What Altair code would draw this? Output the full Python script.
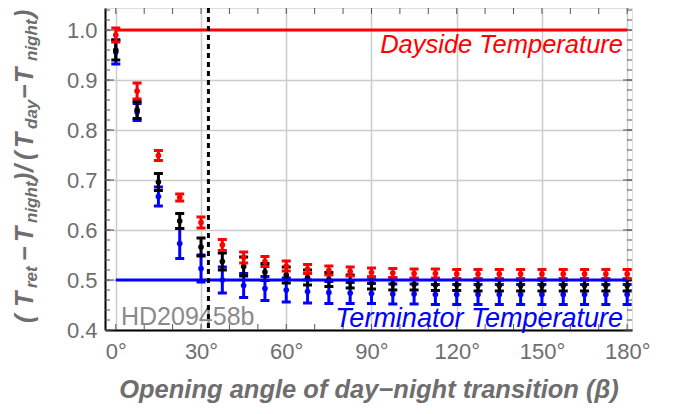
import altair as alt
import pandas as pd

# ---------------- data ----------------
beta = [0, 7.5, 15, 22.5, 30, 37.5, 45, 52.5, 60, 67.5, 75, 82.5, 90, 97.5,
        105, 112.5, 120, 127.5, 135, 142.5, 150, 157.5, 165, 172.5, 180]

red_val = [0.990, 0.878, 0.749, 0.665, 0.615, 0.570, 0.545, 0.537, 0.528, 0.522,
           0.519, 0.517, 0.515, 0.514, 0.513, 0.513, 0.512, 0.512, 0.512, 0.512,
           0.512, 0.512, 0.512, 0.512, 0.512]
red_err = [0.014, 0.016, 0.010, 0.007, 0.011, 0.011, 0.011, 0.010, 0.010, 0.009,
           0.009, 0.009, 0.009, 0.009, 0.009, 0.009, 0.009, 0.009, 0.009, 0.009,
           0.009, 0.009, 0.009, 0.009, 0.009]

black_val = [0.960, 0.840, 0.696, 0.618, 0.566, 0.537, 0.527, 0.516, 0.510, 0.505,
             0.501, 0.497, 0.494, 0.492, 0.491, 0.490, 0.490, 0.489, 0.489, 0.489,
             0.489, 0.489, 0.489, 0.489, 0.489]
black_err = [0.020, 0.017, 0.017, 0.015, 0.018, 0.017, 0.019, 0.017, 0.016, 0.015,
             0.014, 0.013, 0.012, 0.012, 0.011, 0.011, 0.011, 0.011, 0.011, 0.011,
             0.011, 0.011, 0.011, 0.011, 0.011]

blue_val = [0.956, 0.836, 0.667, 0.573, 0.523, 0.500, 0.489, 0.483, 0.480, 0.477,
            0.475, 0.474, 0.473, 0.472, 0.472, 0.471, 0.471, 0.471, 0.471, 0.471,
            0.471, 0.471, 0.471, 0.471, 0.471]
blue_err = [0.024, 0.017, 0.019, 0.030, 0.027, 0.026, 0.024, 0.024, 0.024, 0.023,
            0.022, 0.021, 0.020, 0.020, 0.020, 0.020, 0.020, 0.020, 0.020, 0.020,
            0.020, 0.020, 0.020, 0.020, 0.020]

dayside_level = [1.0]
terminator_level = [0.5]
line_start = [0]
line_end = [180]
transition_beta = [32.6]

x_tick_labels = [0, 30, 60, 90, 120, 150, 180]
y_tick_labels = [0.4, 0.5, 0.6, 0.7, 0.8, 0.9, 1.0]
y_minor_ticks = [0.40, 0.42, 0.44, 0.46, 0.48, 0.50, 0.52, 0.54, 0.56, 0.58,
                 0.60, 0.62, 0.64, 0.66, 0.68, 0.70, 0.72, 0.74, 0.76, 0.78,
                 0.80, 0.82, 0.84, 0.86, 0.88, 0.90, 0.92, 0.94, 0.96, 0.98,
                 1.00, 1.02, 1.04]
x_minor_ticks = [0, 10, 20, 30, 40, 50, 60, 70, 80, 90, 100, 110, 120, 130,
                 140, 150, 160, 170, 180]

# ---------------- layout ----------------
W, H = 527, 322
FONT = "Liberation Sans"
GRAY = "#6e6e6e"
RED = "#ff0000"
BLUE = "#0000ff"

xs = alt.Scale(domain=[-3.8, 181.7], nice=False, zero=False)
ys = alt.Scale(domain=[0.4, 1.044], nice=False, zero=False)

X_AXIS = alt.Axis(values=x_tick_labels, labelExpr="datum.value + '°'",
                  ticks=False, grid=True, gridColor="#cccccc", gridWidth=1.5,
                  domainColor="black", domainWidth=2,
                  labelFontSize=22, labelColor=GRAY, labelFont=FONT,
                  labelPadding=11, labelFlush=False,
                  title="Opening angle of  day\u2212night transition (\u03b2)",
                  titleFont=FONT, titleFontSize=25.5, titleFontStyle="italic",
                  titleFontWeight="bold", titleColor=GRAY, titlePadding=15)
Y_AXIS = alt.Axis(values=y_tick_labels, format=".1f",
                  ticks=False, grid=True, gridColor="#cccccc", gridWidth=1.5,
                  domainColor="black", domainWidth=2,
                  labelFontSize=22, labelColor=GRAY, labelFont=FONT,
                  labelPadding=8, labelFlush=False, title=None)


def X(field):
    return alt.X(field, scale=xs, axis=X_AXIS)


def Y(field):
    return alt.Y(field, scale=ys, axis=Y_AXIS)


def series_df(vals, errs):
    return pd.DataFrame({
        "beta": beta,
        "val": vals,
        "lo": [v - e for v, e in zip(vals, errs)],
        "hi": [v + e for v, e in zip(vals, errs)],
    })


# minor ticks (inward) on all four sides
ydf = pd.DataFrame({"val": y_minor_ticks,
                    "major": [abs(v * 10 - round(v * 10)) < 1e-6 for v in y_minor_ticks]})
xdf = pd.DataFrame({"beta": x_minor_ticks})
tick_col = "#555555"
ticks_left_minor = alt.Chart(ydf).mark_rule(color=tick_col, strokeWidth=1).encode(
    y=Y("val:Q"), x=alt.value(0), x2=alt.value(5))
ticks_left_major = alt.Chart(ydf).transform_filter("datum.major").mark_rule(
    color=tick_col, strokeWidth=1).encode(y=Y("val:Q"), x=alt.value(0), x2=alt.value(9))
ticks_right_minor = alt.Chart(ydf).mark_rule(color=tick_col, strokeWidth=1).encode(
    y=Y("val:Q"), x=alt.value(W - 5), x2=alt.value(W))
ticks_right_major = alt.Chart(ydf).transform_filter("datum.major").mark_rule(
    color=tick_col, strokeWidth=1).encode(y=Y("val:Q"), x=alt.value(W - 9), x2=alt.value(W))
ticks_top = alt.Chart(xdf).mark_rule(color=tick_col, strokeWidth=1).encode(
    x=X("beta:Q"), y=alt.value(0), y2=alt.value(6))
ticks_bottom = alt.Chart(xdf).mark_rule(color=tick_col, strokeWidth=1).encode(
    x=X("beta:Q"), y=alt.value(H - 6), y2=alt.value(H))


def errlayers(vals, errs, color):
    d = series_df(vals, errs)
    bar = alt.Chart(d).mark_rule(color=color, strokeWidth=3).encode(
        x=X("beta:Q"), y=Y("lo:Q"), y2="hi:Q")
    cap_lo = alt.Chart(d).mark_tick(color=color, orient="horizontal", size=9,
                                    thickness=3, opacity=1).encode(
        x=X("beta:Q"), y=Y("lo:Q"))
    cap_hi = alt.Chart(d).mark_tick(color=color, orient="horizontal", size=9,
                                    thickness=3, opacity=1).encode(
        x=X("beta:Q"), y=Y("hi:Q"))
    pts = alt.Chart(d).mark_circle(color=color, size=32, opacity=1).encode(
        x=X("beta:Q"), y=Y("val:Q"))
    return [bar, cap_lo, cap_hi, pts]


blue_layers = errlayers(blue_val, blue_err, BLUE)
black_layers = errlayers(black_val, black_err, "black")
red_layers = errlayers(red_val, red_err, RED)

hdf = pd.DataFrame({"x0": line_start + line_start, "x1": line_end + line_end,
                    "lvl": dayside_level + terminator_level,
                    "kind": ["day", "term"]})
red_line = alt.Chart(hdf).transform_filter("datum.kind == 'day'").mark_rule(
    color=RED, strokeWidth=3).encode(x=X("x0:Q"), x2="x1:Q", y=Y("lvl:Q"))
blue_line = alt.Chart(hdf).transform_filter("datum.kind == 'term'").mark_rule(
    color=BLUE, strokeWidth=3).encode(x=X("x0:Q"), x2="x1:Q", y=Y("lvl:Q"))

vline = alt.Chart(pd.DataFrame({"beta": transition_beta})).mark_rule(
    color="black", strokeWidth=3, strokeDash=[5, 4]).encode(x=X("beta:Q"))


# annotations
def label(txt, x, y, color, align, italic=True, size=25):
    return alt.Chart(pd.DataFrame({"t": [txt]})).mark_text(
        font=FONT, fontSize=size, fontStyle="italic" if italic else "normal",
        color=color, align=align, baseline="alphabetic").encode(
        text="t:N", x=alt.value(x), y=alt.value(y))


hd_label = label("HD209458b", 16, 317, "#8a8a8a", "left", italic=False)
day_label = label("Dayside Temperature", 518, 45, RED, "right", size=25.5)
term_label = label("Terminator Temperature", 518, 319, BLUE, "right", size=27)

# y-axis title with subscripts (rotated, read bottom to top)
title_segments = [
    ("(", 323, False), ("T", 307, False), ("ret", 288, True),
    ("\u2212", 261, False), ("T", 242, False), ("night", 223, True),
    (")", 181, False), ("/", 172, False), ("(", 160, False),
    ("T", 148, False), ("day", 129, True), ("\u2212", 99, False),
    ("T", 83, False), ("night", 61, True), (")", 18, False),
]
title_layers = []
for txt, ypage, sub in title_segments:
    title_layers.append(
        alt.Chart(pd.DataFrame({"t": [txt]})).mark_text(
            font=FONT, fontSize=17 if sub else 25, fontStyle="italic",
            fontWeight="bold", color=GRAY, align="left", baseline="alphabetic",
            angle=270).encode(
            text="t:N", x=alt.value((37 if sub else 33) - 105), y=alt.value(ypage - 8)))

chart = alt.layer(
    ticks_left_minor, ticks_left_major, ticks_right_minor, ticks_right_major,
    ticks_top, ticks_bottom,
    *blue_layers, *black_layers, *red_layers,
    red_line, blue_line,
    hd_label, day_label, term_label,
    vline,
    *title_layers,
).properties(
    width=W, height=H,
    autosize=alt.AutoSizeParams(type="none"),
    padding={"left": 97, "top": 0, "right": 30, "bottom": 74},
).configure_view(
    stroke="#666666", strokeWidth=1.5
).configure(background="white")

chart.save("out.html", embed_options={"renderer": "svg", "actions": False})
